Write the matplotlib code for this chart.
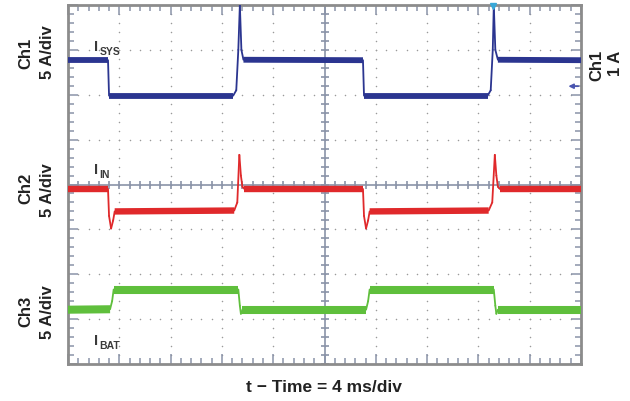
import numpy as np
import matplotlib.pyplot as plt
from matplotlib.ticker import MultipleLocator
from matplotlib.collections import LineCollection

plt.rcParams['font.family'] = ['Liberation Sans', 'DejaVu Sans']

# Traces in divisions (x: 0..10, y: 0..8)
sys_t = [0, 0.78, 0.80, 3.22, 3.28, 3.32, 3.35, 3.38, 3.42, 5.75, 5.77, 8.18, 8.24, 8.28, 8.30, 8.33, 8.38, 10]
sys_v = [6.77, 6.77, 5.98, 5.98, 6.10, 7.00, 8.00, 7.00, 6.78, 6.77, 5.98, 5.98, 6.10, 7.00, 8.00, 7.00, 6.78, 6.77]

in_t = [0, 0.78, 0.80, 0.84, 0.88, 0.91, 3.24, 3.30, 3.34, 3.37, 3.40, 3.44, 5.75, 5.77, 5.81, 5.85, 5.88, 8.20, 8.27, 8.32, 8.35, 8.38, 8.42, 10]
in_v = [3.90, 3.90, 3.30, 3.02, 3.20, 3.40, 3.42, 3.60, 4.66, 4.20, 3.95, 3.90, 3.90, 3.30, 3.02, 3.20, 3.40, 3.42, 3.60, 4.66, 4.20, 3.95, 3.90, 3.90]

bat_t = [0, 0.82, 0.86, 0.89, 3.32, 3.35, 3.37, 3.40, 5.81, 5.85, 5.88, 8.30, 8.33, 8.35, 8.38, 10]
bat_v = [1.21, 1.22, 1.40, 1.66, 1.66, 1.30, 1.12, 1.21, 1.21, 1.40, 1.66, 1.66, 1.30, 1.12, 1.21, 1.21]


def trace(ax, t, v, color, band):
    # noisy flat parts drawn as a thick band, fast edges as a thin line
    pts = np.column_stack([t, v])
    segs = np.stack([pts[:-1], pts[1:]], axis=1)
    flat = np.abs(np.diff(v)) < 0.05
    ax.add_collection(LineCollection(segs[~flat], colors=color, linewidths=1.3,
                                     capstyle='round', zorder=3))
    ax.add_collection(LineCollection(segs[flat], colors=color, linewidths=band,
                                     capstyle='butt', zorder=3))


fig = plt.figure(figsize=(6.3, 4.02), dpi=100)
ax = fig.add_axes([68/630, 1-365/402, 513/630, 359/402])
ax.set_xlim(0, 10)
ax.set_ylim(0, 8)

# graticule: dotted grid
minor = np.arange(0, 10.01, 0.2)
minor_y = np.arange(0, 8.01, 0.2)
for gy in range(1, 8):
    ax.scatter(minor, np.full(len(minor), gy), s=1.2, color='#9a9a9a', lw=0, zorder=1)
for gx in range(1, 10):
    ax.scatter(np.full(len(minor_y), gx), minor_y, s=1.2, color='#9a9a9a', lw=0, zorder=1)

# center axes with ticks
cc = '#8a93a8'
ax.axhline(4, color=cc, lw=1.2, zorder=1)
ax.axvline(5, color=cc, lw=1.2, zorder=1)
ax.plot(minor, np.full(len(minor), 4), ls='none', marker='|', ms=6, mew=1.2, color=cc, zorder=1)
ax.plot(np.full(len(minor_y), 5), minor_y, ls='none', marker='_', ms=6, mew=1.2, color=cc, zorder=1)

# frame ticks
ax.xaxis.set_major_locator(MultipleLocator(1))
ax.xaxis.set_minor_locator(MultipleLocator(0.2))
ax.yaxis.set_major_locator(MultipleLocator(1))
ax.yaxis.set_minor_locator(MultipleLocator(0.2))
ax.tick_params(which='both', direction='in', top=True, right=True,
               labelbottom=False, labelleft=False, color=cc, width=1.1)
ax.tick_params(which='major', length=7)
ax.tick_params(which='minor', length=4)
for s in ax.spines.values():
    s.set_color('#8c8c8c')
    s.set_linewidth(2)

# traces
trace(ax, sys_t, sys_v, '#2b3590', 4.2)
trace(ax, in_t, in_v, '#e0292b', 4.6)
trace(ax, bat_t, bat_v, '#5fbf3c', 5.8)

# markers
ax.plot([8.29], [7.97], marker='v', ms=5, color='#38a8d8', clip_on=False, zorder=4)
ax.annotate('', xy=(9.7, 6.19), xytext=(10.0, 6.19),
            arrowprops=dict(arrowstyle='-|>', color='#4a55b0', lw=1.2, mutation_scale=7))

# trace labels: big I with small bold subscript
lab = dict(color='#3a3a3a', fontweight='bold', ha='left', va='baseline')
for y, sub in [(7.0, 'SYS'), (4.25, 'IN'), (0.45, 'BAT')]:
    ax.text(0.5, y, 'I', fontsize=10.5, **lab)
    ax.annotate(sub, xy=(0.5, y), xytext=(4, -3), textcoords='offset points',
                fontsize=7.5, **lab)

# channel labels
t = dict(fontsize=12, fontweight='bold', rotation=90, ha='center', va='center', color='#222222')
fig.text(26/630, 1-53/402, 'Ch1', **t)
fig.text(47/630, 1-52/402, '5 A/div', **t)
fig.text(26/630, 1-188/402, 'Ch2', **t)
fig.text(47/630, 1-190/402, '5 A/div', **t)
fig.text(26/630, 1-311/402, 'Ch3', **t)
fig.text(47/630, 1-312/402, '5 A/div', **t)
fig.text(597/630, 1-65/402, 'Ch1', **t)
fig.text(615/630, 1-63/402, '1 A', **t)
fig.text(324/630, 1-388/402, 't \u2212 Time = 4 ms/div', fontsize=12.5, fontweight='bold',
         ha='center', va='center', color='#222222')

fig.savefig('out.png', dpi=100)
